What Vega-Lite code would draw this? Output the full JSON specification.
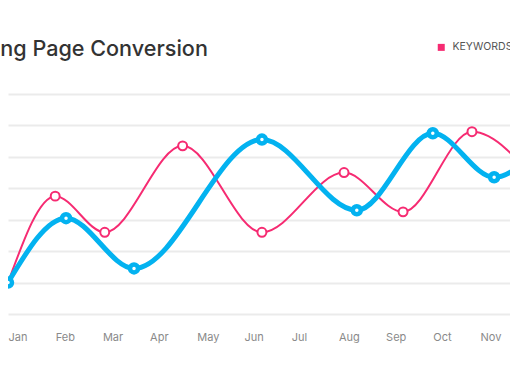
{
  "$schema": "https://vega.github.io/schema/vega-lite/v6.json",
  "width": 502,
  "height": 220,
  "autosize": {"type": "none"},
  "padding": {"left": 8, "top": 94, "right": 0, "bottom": 68},
  "background": "white",
  "title": {
    "text": "Landing Page Conversion",
    "anchor": "start",
    "frame": "group",
    "font": "Inter",
    "fontSize": 21.6,
    "fontWeight": 500,
    "color": "#333333",
    "baseline": "alphabetic",
    "offset": 0,
    "dy": 36,
    "dx": -64
  },
  "config": {
    "view": {"stroke": null},
    "font": "Inter"
  },
  "data": {
    "values": [
      {"series": "KEYWORDS", "m": 0, "value": 10},
      {"series": "KEYWORDS", "m": 1.0, "value": 37.5},
      {"series": "KEYWORDS", "m": 2.05, "value": 26},
      {"series": "KEYWORDS", "m": 3.7, "value": 53.5},
      {"series": "KEYWORDS", "m": 5.38, "value": 26},
      {"series": "KEYWORDS", "m": 7.12, "value": 45},
      {"series": "KEYWORDS", "m": 8.37, "value": 32.5},
      {"series": "KEYWORDS", "m": 9.83, "value": 58},
      {"series": "KEYWORDS", "m": 11.3, "value": 40},
      {"series": "ORGANIC", "m": 0, "value": 10},
      {"series": "ORGANIC", "m": 1.23, "value": 30.5},
      {"series": "ORGANIC", "m": 2.67, "value": 14.5},
      {"series": "ORGANIC", "m": 5.38, "value": 55.5},
      {"series": "ORGANIC", "m": 7.39, "value": 33},
      {"series": "ORGANIC", "m": 9.0, "value": 57.5},
      {"series": "ORGANIC", "m": 10.3, "value": 43.5},
      {"series": "ORGANIC", "m": 11.5, "value": 58}
    ]
  },
  "encoding": {
    "x": {
      "field": "m",
      "type": "quantitative",
      "scale": {"domain": [0, 10.636], "nice": false, "zero": false},
      "axis": {
        "title": null,
        "values": [0, 1, 2, 3, 4, 5, 6, 7, 8, 9, 10],
        "labelExpr": "['Jan','Feb','Mar','Apr','May','Jun','Jul','Aug','Sep','Oct','Nov'][datum.value]",
        "labelAlign": "left",
        "labelFontSize": 11,
        "labelColor": "#8a8a8a",
        "labelPadding": 17,
        "labelDx": -1.5,
        "labelFlush": false,
        "labelOverlap": false,
        "grid": false,
        "domain": false,
        "ticks": false
      }
    },
    "y": {
      "field": "value",
      "type": "quantitative",
      "scale": {"domain": [0, 70], "nice": false},
      "axis": {
        "title": null,
        "values": [0, 10, 20, 30, 40, 50, 60, 70],
        "labels": false,
        "ticks": false,
        "domain": false,
        "grid": true,
        "gridColor": "#ebebeb",
        "gridWidth": 2
      }
    },
    "color": {
      "field": "series",
      "type": "nominal",
      "scale": {"domain": ["KEYWORDS", "ORGANIC"], "range": ["#f62b72", "#03b2f0"]},
      "legend": {
        "title": null,
        "orient": "none",
        "legendX": 428,
        "legendY": -52,
        "direction": "horizontal",
        "symbolType": "square",
        "symbolSize": 49,
        "labelFontSize": 10.5,
        "labelColor": "#555555",
        "labelOffset": 6,
        "columnPadding": 20,
        "encode": {
          "symbols": {"update": {"fill": {"scale": "color", "field": "value"}, "strokeWidth": {"value": 0}}}
        }
      }
    }
  },
  "layer": [
    {
      "transform": [{"filter": "datum.series == 'KEYWORDS'"}],
      "mark": {"type": "line", "interpolate": "monotone", "strokeWidth": 2, "clip": true}
    },
    {
      "transform": [{"filter": "datum.series == 'KEYWORDS'"}],
      "mark": {"type": "point", "shape": "circle", "filled": false, "fill": "white", "fillOpacity": 1, "size": 80, "strokeWidth": 2, "opacity": 1, "clip": true}
    },
    {
      "transform": [{"filter": "datum.series == 'ORGANIC'"}],
      "mark": {"type": "line", "interpolate": "monotone", "strokeWidth": 5, "clip": true}
    },
    {
      "transform": [{"filter": "datum.series == 'ORGANIC'"}],
      "mark": {"type": "point", "shape": "circle", "filled": false, "fill": "white", "fillOpacity": 1, "size": 64, "strokeWidth": 4.5, "opacity": 1, "clip": true}
    }
  ]
}
